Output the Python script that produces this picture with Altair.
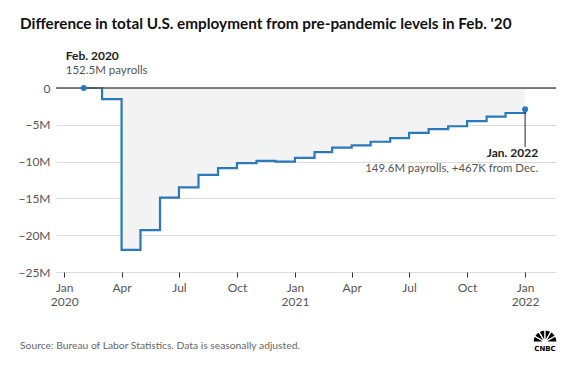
import altair as alt
import pandas as pd

# ---- data (millions of jobs vs. Feb 2020 level) ----
months = [
    "2020-02-01", "2020-03-01", "2020-04-01", "2020-05-01", "2020-06-01", "2020-07-01",
    "2020-08-01", "2020-09-01", "2020-10-01", "2020-11-01", "2020-12-01", "2021-01-01",
    "2021-02-01", "2021-03-01", "2021-04-01", "2021-05-01", "2021-06-01", "2021-07-01",
    "2021-08-01", "2021-09-01", "2021-10-01", "2021-11-01", "2021-12-01", "2022-01-01",
]
diff_m = [
    0.0, -1.5, -22.0, -19.3, -14.9, -13.5,
    -11.8, -10.9, -10.2, -9.9, -10.0, -9.5,
    -8.7, -8.1, -7.8, -7.3, -6.8, -6.1,
    -5.6, -5.2, -4.5, -3.9, -3.4, -2.9,
]
y_ticks = [0, -5, -10, -15, -20, -25]
x_ticks = ["2020-01-01", "2020-04-01", "2020-07-01", "2020-10-01", "2021-01-01",
           "2021-04-01", "2021-07-01", "2021-10-01", "2022-01-01"]

title_text = "Difference in total U.S. employment from pre-pandemic levels in Feb. '20"
source_text = "Source: Bureau of Labor Statistics. Data is seasonally adjusted."
start_label = ["Feb. 2020", "152.5M payrolls"]
end_label = ["Jan. 2022", "149.6M payrolls, +467K from Dec."]
logo_text = "CNBC"
feathers = [0, 1, 2, 3, 4, 5]

FONT = "Lato"
BLUE = "#2a78bd"

df = pd.DataFrame({"date": months, "diff": diff_m})
ends = df.iloc[[0, -1]].reset_index(drop=True)
first = df.iloc[[0]]
last = df.iloc[[-1]].assign(low=-8.0)

def d(s):
    y, m, dd = [int(v) for v in s.split("-")]
    return alt.DateTime(year=y, month=m, date=dd, utc=True)

xscale = alt.Scale(type="utc", domain=[d("2019-12-19"), d("2022-02-19")])
yscale = alt.Scale(domain=[-25, 0], nice=False)

x_axis = alt.Axis(
    values=[d(s) for s in x_ticks], grid=False, domain=False,
    ticks=True, tickColor="#333333", tickSize=5, tickWidth=1,
    labelPadding=5, labelFont=FONT, labelFontSize=12, labelColor="#555555",
    labelLineHeight=14, labelFlush=False, labelOverlap=False,
    labelExpr="utcmonth(datum.value) == 0 ? [utcFormat(datum.value, '%b'), utcFormat(datum.value, '%Y')] : utcFormat(datum.value, '%b')",
)
y_axis = alt.Axis(
    values=y_ticks, grid=True, gridColor="#dcdcdc", gridWidth=1,
    domain=False, ticks=False, labelPadding=6, labelFont=FONT,
    labelFontSize=12, labelColor="#555555", labelOverlap=False,
    labelBound=False,
    labelExpr="datum.value == 0 ? '0' : '\u2212' + abs(datum.value) + 'M'",
)

def X(field):
    return alt.X(field, scale=xscale, title=None, axis=x_axis)

def Y(field):
    return alt.Y(field, scale=yscale, title=None, axis=y_axis)

base = alt.Chart(df)

area = base.mark_area(interpolate="step-after", color="#f3f3f3").encode(
    x=X("date:T"), y=Y("diff:Q"), y2=alt.datum(0)
)
line = base.mark_line(interpolate="step-after", color=BLUE, strokeWidth=2.2).encode(
    x=X("date:T"), y=Y("diff:Q")
)
zero = alt.Chart(pd.DataFrame({"diff": [0]})).mark_rule(color="#555555", strokeWidth=1.5).encode(
    y=Y("diff:Q")
)
dots = alt.Chart(ends).mark_circle(color=BLUE, opacity=1, size=36).encode(
    x=X("date:T"), y=Y("diff:Q")
)
leader = alt.Chart(last).mark_rule(color="#222222", strokeWidth=1).encode(
    x=X("date:T"), y=Y("diff:Q"), y2="low:Q"
)

start_bold = alt.Chart(first).mark_text(
    align="left", baseline="alphabetic", dx=-18, dy=-28,
    font=FONT, fontSize=12, fontWeight="bold", color="#222222",
).encode(x=X("date:T"), y=Y("diff:Q"), text=alt.value(start_label[0]))
start_sub = alt.Chart(first).mark_text(
    align="left", baseline="alphabetic", dx=-18, dy=-14,
    font=FONT, fontSize=11.5, color="#555555",
).encode(x=X("date:T"), y=Y("diff:Q"), text=alt.value(start_label[1]))

end_bold = alt.Chart(last).mark_text(
    align="right", baseline="alphabetic", dx=13, dy=48,
    font=FONT, fontSize=12, fontWeight="bold", color="#222222",
).encode(x=X("date:T"), y=Y("diff:Q"), text=alt.value(end_label[0]))
end_sub = alt.Chart(last).mark_text(
    align="right", baseline="alphabetic", dx=13, dy=63,
    font=FONT, fontSize=11.4, color="#555555",
).encode(x=X("date:T"), y=Y("diff:Q"), text=alt.value(end_label[1]))

title = alt.Chart(pd.DataFrame({"t": [title_text]})).mark_text(
    align="left", baseline="alphabetic", font=FONT, fontSize=15.3,
    fontWeight="bold", color="#111111",
).encode(x=alt.value(-36), y=alt.value(-59), text="t:N")

source = alt.Chart(pd.DataFrame({"t": [source_text]})).mark_text(
    align="left", baseline="alphabetic", font=FONT, fontSize=10.3, color="#666666",
).encode(x=alt.value(-36), y=alt.value(261), text="t:N")

# CNBC logo: a small peacock fan plus wordmark
fan = pd.DataFrame({"k": feathers})
fan["t0"] = 4.712 + fan["k"] * 0.5236
fan["t1"] = fan["t0"] + 0.5236
peacock = alt.Chart(fan).mark_arc(
    radius=12, radius2=2.5, fill="#000000", stroke="#ffffff", strokeWidth=1.2
).encode(
    x=alt.value(489), y=alt.value(254),
    theta=alt.Theta("t0:Q", scale=None), theta2="t1:Q",
)
logo = alt.Chart(pd.DataFrame({"t": [logo_text]})).mark_text(
    align="center", baseline="alphabetic", font="DejaVu Sans", fontSize=7,
    fontWeight="bold", color="#000000",
).encode(x=alt.value(489), y=alt.value(263), text="t:N")

chart = alt.layer(
    area, line, zero, leader, dots, start_bold, start_sub, end_bold, end_sub,
    title, source, peacock, logo
).properties(
    width=500, height=184,
    autosize=alt.AutoSizeParams(type="none"),
    padding={"left": 48, "top": 80, "right": 6, "bottom": 90},
).configure_view(stroke=None).configure_axis(labelOverlap=False)

chart.save("out.html", embed_options={"renderer": "svg", "actions": False})
